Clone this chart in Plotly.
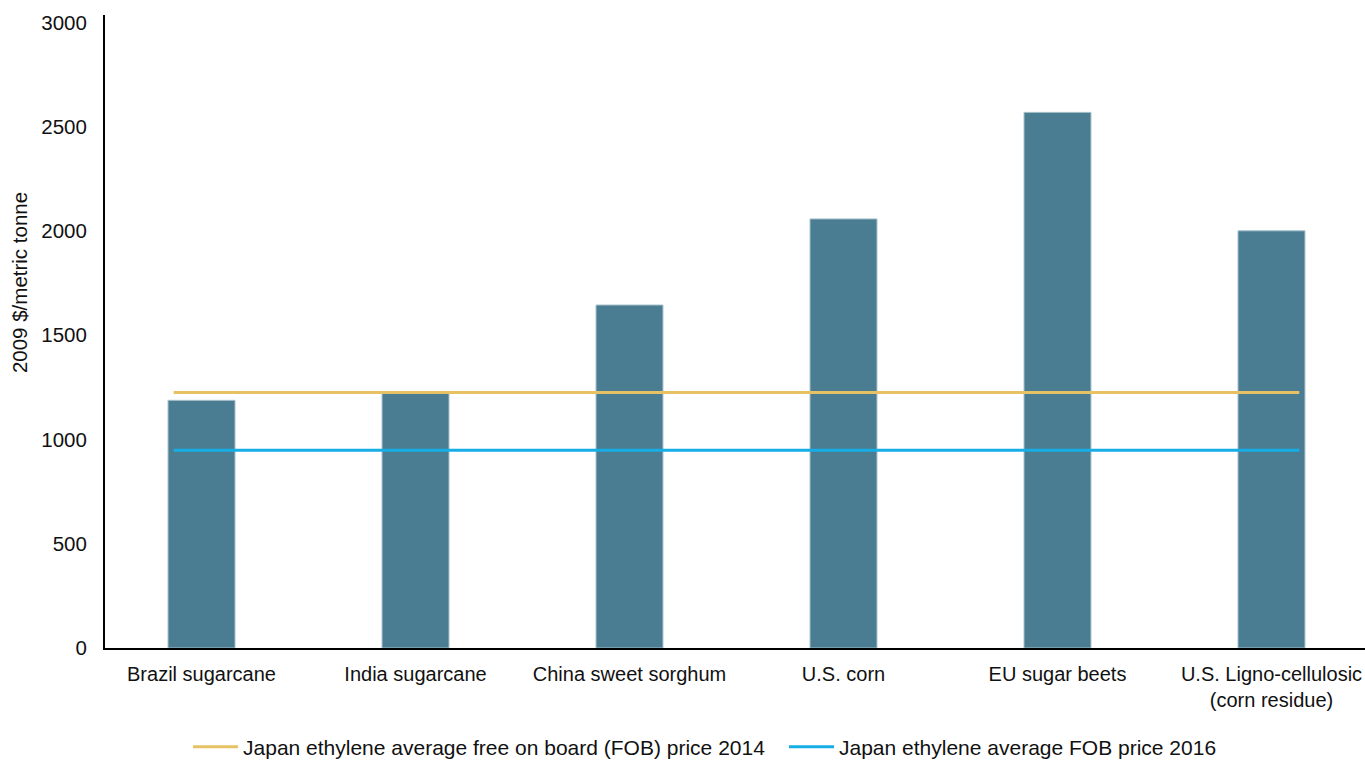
import plotly.graph_objects as go

# Production cost of bio-ethylene by feedstock (2009 $/metric tonne)
categories = [
    "Brazil sugarcane",
    "India sugarcane",
    "China sweet sorghum",
    "U.S. corn",
    "EU sugar beets",
    "U.S. Ligno-cellulosic<br>(corn residue)",
]
costs = [1188, 1221, 1645, 2058, 2569, 2001]

# Benchmark ethylene prices
fob_2014_name = "Japan ethylene average free on board (FOB) price 2014"
fob_2014 = 1225
fob_2016_name = "Japan ethylene average FOB price 2016"
fob_2016 = 948

y_ticks = [0, 500, 1000, 1500, 2000, 2500, 3000]

FONT = "Liberation Sans, Arial, Helvetica, sans-serif"
BAR = "#4a7d92"
ORANGE = "#e6c264"
BLUE = "#17aee6"

x_pos = list(range(len(categories)))
line_x = [x_pos[0] - 0.13, x_pos[-1] + 0.13]

fig = go.Figure()

fig.add_trace(go.Bar(
    x=x_pos,
    y=costs,
    width=0.313,
    marker=dict(color=BAR, line=dict(color="#a9c2cc", width=1)),
    showlegend=False,
    hoverinfo="y",
))

fig.add_trace(go.Scatter(
    x=line_x,
    y=[fob_2014] * 2,
    mode="lines",
    line=dict(color=ORANGE, width=3),
    name=fob_2014_name,
    legend="legend",
))

fig.add_trace(go.Scatter(
    x=line_x,
    y=[fob_2016] * 2,
    mode="lines",
    line=dict(color=BLUE, width=3),
    name=fob_2016_name,
    legend="legend2",
))

legend_style = dict(
    orientation="h",
    xanchor="left",
    yref="container",
    y=0.017,
    yanchor="middle",
    font=dict(size=21),
    itemwidth=45,
    bgcolor="rgba(0,0,0,0)",
)

fig.update_layout(
    width=1365,
    height=760,
    margin=dict(l=105, r=0, t=15, b=112, autoexpand=False),
    paper_bgcolor="white",
    plot_bgcolor="white",
    font=dict(family=FONT, size=21, color="#111111"),
    legend=dict(x=0.0659, **legend_style),
    legend2=dict(x=0.5389, **legend_style),
    annotations=[
        dict(
            text="2009 $/metric tonne",
            textangle=-90,
            xref="paper", yref="paper",
            x=-0.068, y=0.577,
            xanchor="center", yanchor="middle",
            showarrow=False,
            font=dict(size=20.5),
        )
    ],
)

fig.update_xaxes(
    range=[-0.451, 5.437],
    tickvals=x_pos,
    ticktext=categories,
    tickfont=dict(size=20),
    showline=True,
    linecolor="black",
    linewidth=2,
    showgrid=False,
    zeroline=False,
    ticks="",
    ticklabelstandoff=7,
)

fig.update_yaxes(
    range=[0, 3036],
    tickvals=y_ticks,
    tickfont=dict(size=20.5),
    showline=True,
    linecolor="black",
    linewidth=2,
    showgrid=False,
    zeroline=False,
    ticks="",
    ticklabelstandoff=12,
)

fig.write_html("out.html")
